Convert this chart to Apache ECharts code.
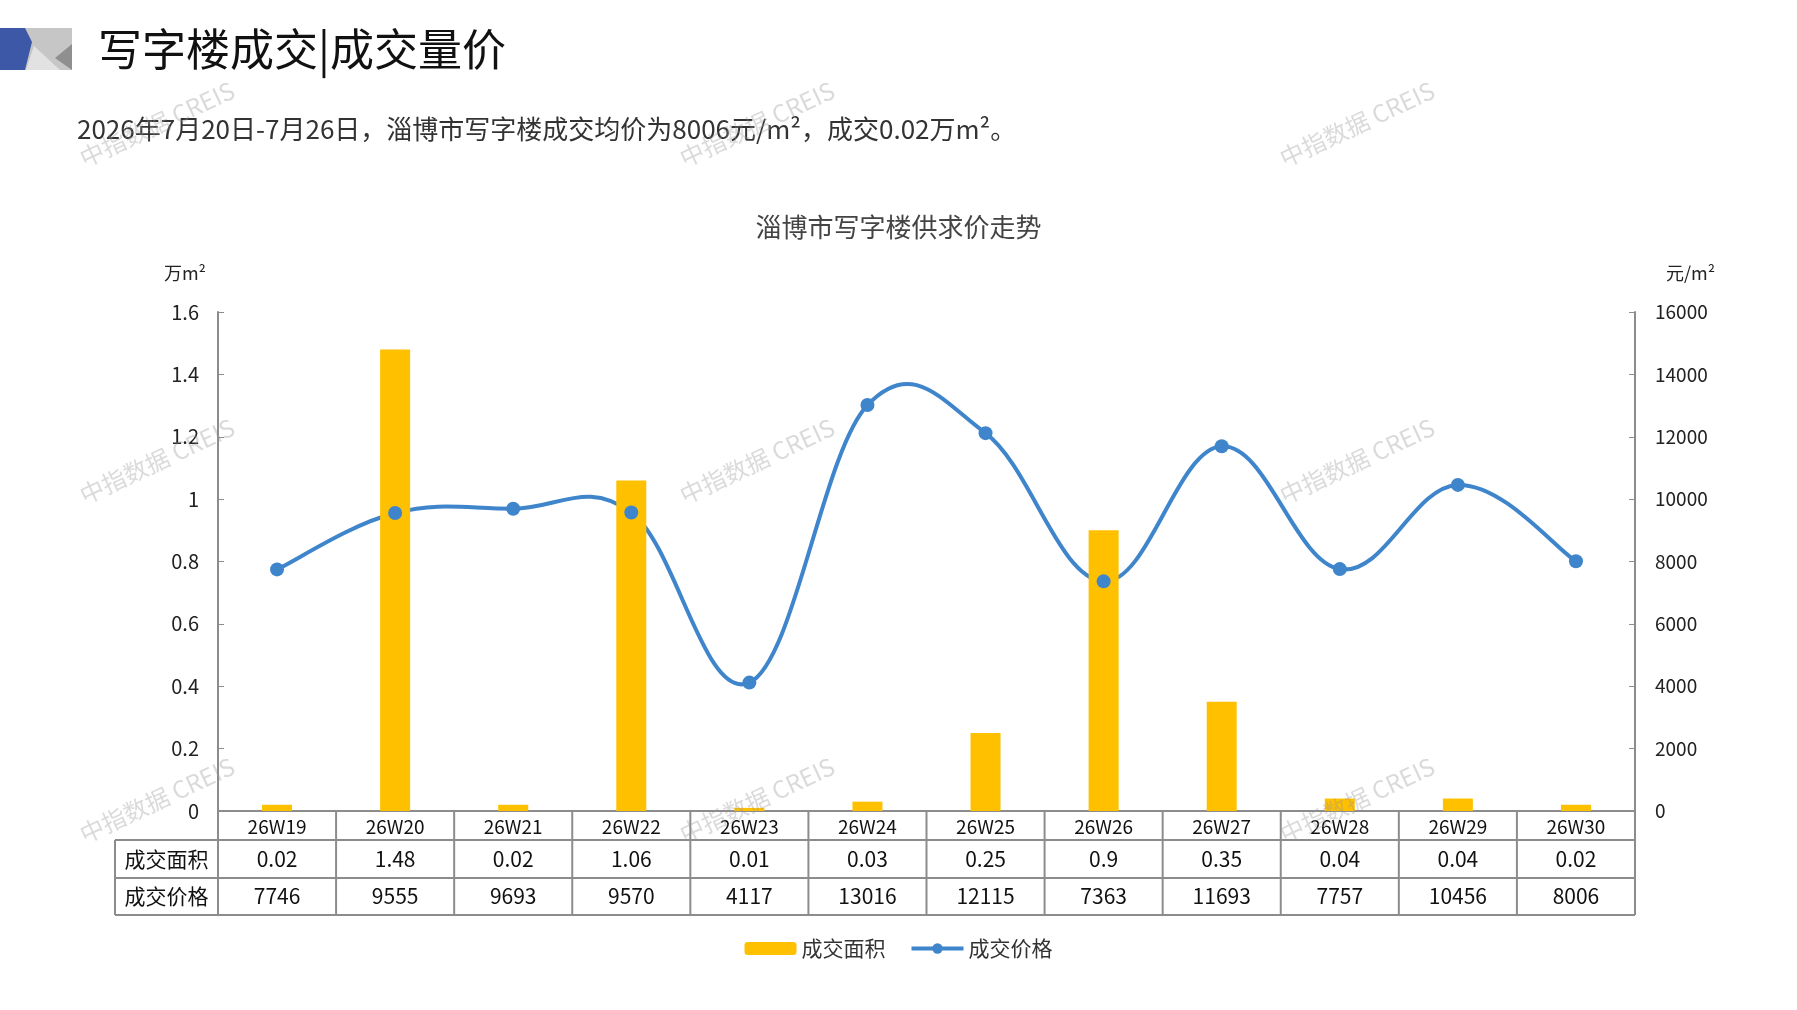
<!DOCTYPE html>
<html lang="zh-CN">
  <head>
    <meta charset="UTF-8" />
    <title>写字楼成交|成交量价</title>
    <script src="https://cdn.jsdelivr.net/npm/echarts@6/dist/echarts.min.js"></script>
    <style>
      html, body { margin: 0; padding: 0; background: #fff; }
      #main { width: 1797px; height: 1010px; }
    </style>
  </head>
  <body>
    <div id="main"></div>
    <script>
      // data
      const weeks = ['26W19', '26W20', '26W21', '26W22', '26W23', '26W24', '26W25', '26W26', '26W27', '26W28', '26W29', '26W30']
      const area = [0.02, 1.48, 0.02, 1.06, 0.01, 0.03, 0.25, 0.9, 0.35, 0.04, 0.04, 0.02]
      const price = [7746, 9555, 9693, 9570, 4117, 13016, 12115, 7363, 11693, 7757, 10456, 8006]
      const seriesNames = ['成交面积', '成交价格']

      const font = '"Noto Sans CJK SC", "Noto Sans", sans-serif'
      const gold = '#FFC000'
      const blue = '#3F85CB'
      const border = '#8C8C8C'

      const chart = echarts.init(document.getElementById('main'))

      // faint watermarks
      const marks = []
      ;[157, 757, 1357].forEach(x => {
        ;[124, 461, 800].forEach(y => {
          marks.push({
            type: 'text', x: x, y: y, rotation: 25 * Math.PI / 180, z: 50,
            style: {
              text: '中指数据 CREIS', font: '24px ' + font,
              fill: 'rgba(150,150,150,0.35)', align: 'center', verticalAlign: 'middle'
            }
          })
        })
      })

      const logo = [
        { type: 'rect', shape: { x: 20, y: 28, width: 52, height: 42 }, style: { fill: '#C6C6C6' } },
        { type: 'polygon', shape: { points: [[26, 70], [34, 46], [60, 70]] }, style: { fill: '#E2E2E2' } },
        { type: 'polygon', shape: { points: [[72, 44], [55, 58], [72, 70]] }, style: { fill: '#8F8F8F' } },
        { type: 'polygon', shape: { points: [[0, 28], [25, 28], [32, 42], [25, 70], [0, 70]] }, style: { fill: '#3D58A6' } }
      ]

      // spreadsheet-style smooth curve (lets the curve swing past the points)
      const tension = 0.19
      function priceCurve(params, api) {
        if (params.dataIndex !== 0) return null
        const p = price.map((v, i) => api.coord([i, v]))
        const at = i => p[Math.max(0, Math.min(p.length - 1, i))]
        let d = 'M' + p[0][0] + ' ' + p[0][1]
        for (let i = 0; i < p.length - 1; i++) {
          const a = at(i - 1), b = p[i], c = p[i + 1], e = at(i + 2)
          const c1 = [b[0] + (c[0] - a[0]) * tension, b[1] + (c[1] - a[1]) * tension]
          const c2 = [c[0] - (e[0] - b[0]) * tension, c[1] - (e[1] - b[1]) * tension]
          d += ' C' + c1[0] + ' ' + c1[1] + ' ' + c2[0] + ' ' + c2[1] + ' ' + c[0] + ' ' + c[1]
        }
        return {
          type: 'path', shape: { pathData: d },
          style: { fill: 'none', stroke: blue, lineWidth: 4, lineCap: 'round', lineJoin: 'round' }
        }
      }

      chart.setOption({
        animation: false,
        backgroundColor: '#fff',
        textStyle: { fontFamily: font },
        title: [
          {
            text: '写字楼成交|成交量价', left: 93, top: 22,
            textStyle: { fontSize: 44, fontWeight: 'normal', color: '#111', fontFamily: font }
          },
          {
            text: '2026年7月20日-7月26日，淄博市写字楼成交均价为8006元/m²，成交0.02万m²。',
            left: 72, top: 111,
            textStyle: { fontSize: 26, fontWeight: 'normal', color: '#333', fontFamily: font }
          },
          {
            text: '淄博市写字楼供求价走势', left: 'center', top: 209,
            textStyle: { fontSize: 26, fontWeight: 'normal', color: '#444', fontFamily: font }
          }
        ],
        legend: {
          top: 933, left: 'center', itemGap: 24, itemWidth: 52, itemHeight: 13,
          textStyle: { fontSize: 21, color: '#333', fontFamily: font },
          data: [
            { name: seriesNames[0] },
            { name: seriesNames[1], lineStyle: { width: 4, color: blue, opacity: 1 } }
          ]
        },
        grid: { left: 218, right: 162, top: 312, bottom: 199, containLabel: false },
        xAxis: {
          type: 'category', data: weeks,
          axisLine: { lineStyle: { color: border, width: 2 } },
          axisTick: { show: false },
          axisLabel: { show: false }
        },
        yAxis: [
          {
            type: 'value', min: 0, max: 1.6, interval: 0.2,
            name: '万m²', nameLocation: 'end', nameGap: 30,
            nameTextStyle: { align: 'right', padding: [0, 12, 0, 0], fontSize: 18, color: '#222' },
            axisLine: { show: true, lineStyle: { color: border, width: 2 } },
            axisTick: { show: true, inside: true, length: 6, lineStyle: { color: border } },
            axisLabel: { fontSize: 20, color: '#222', margin: 19 },
            splitLine: { show: false }
          },
          {
            type: 'value', min: 0, max: 16000, interval: 2000,
            name: '元/m²', nameLocation: 'end', nameGap: 30,
            nameTextStyle: { align: 'left', padding: [0, 0, 0, 31], fontSize: 18, color: '#222' },
            axisLine: { show: true, lineStyle: { color: border, width: 2 } },
            axisTick: { show: true, inside: true, length: 6, lineStyle: { color: border } },
            axisLabel: { fontSize: 19, color: '#222', margin: 20, formatter: v => String(v) },
            splitLine: { show: false }
          }
        ],
        series: [
          {
            name: seriesNames[0], type: 'bar', data: area, barWidth: 30,
            itemStyle: { color: gold }
          },
          {
            name: 'curve', type: 'custom', yAxisIndex: 1, silent: true, z: 2,
            data: price.map((v, i) => [i, v]),
            encode: { x: 0, y: 1 },
            renderItem: priceCurve
          },
          {
            name: seriesNames[1], type: 'line', yAxisIndex: 1, data: price, z: 3,
            symbol: 'circle', symbolSize: 14,
            lineStyle: { color: blue, width: 0 },
            itemStyle: { color: blue }
          }
        ],
        graphic: logo.concat(marks)
      })

      // data table under the plot, placed with the chart's own scales
      const xs = weeks.map((w, i) => chart.convertToPixel({ xAxisIndex: 0 }, i))
      const band = xs[1] - xs[0]
      const left = xs[0] - band / 2
      const right = xs[xs.length - 1] + band / 2
      const y0 = chart.convertToPixel({ yAxisIndex: 0 }, 0)
      const rowH = [29, 38, 37]
      const rowY = [y0, y0 + rowH[0], y0 + rowH[0] + rowH[1], y0 + rowH[0] + rowH[1] + rowH[2]]
      const headLeft = 115
      const table = []
      const line = (x1, y1, x2, y2) => table.push({
        type: 'line', shape: { x1: x1, y1: y1, x2: x2, y2: y2 },
        style: { stroke: border, lineWidth: 2 }, z: 10
      })
      const cell = (text, x, y, size) => table.push({
        type: 'text', x: x, y: y, z: 11,
        style: { text: text, font: size + 'px ' + font, fill: '#111', align: 'center', verticalAlign: 'middle' }
      })
      line(headLeft, rowY[1], right, rowY[1])
      line(headLeft, rowY[2], right, rowY[2])
      line(headLeft, rowY[3], right, rowY[3])
      line(headLeft, rowY[1], headLeft, rowY[3])
      for (let i = 0; i <= weeks.length; i++) {
        line(left + i * band, rowY[0], left + i * band, rowY[3])
      }
      const rows = [area, price]
      seriesNames.forEach((n, r) => cell(n, (headLeft + left) / 2, (rowY[r + 1] + rowY[r + 2]) / 2, 21))
      weeks.forEach((w, i) => {
        cell(w, xs[i], (rowY[0] + rowY[1]) / 2 + 1, 19)
        rows.forEach((vals, r) => cell(String(vals[i]), xs[i], (rowY[r + 1] + rowY[r + 2]) / 2, 21))
      })

      chart.setOption({ graphic: logo.concat(marks, table) })
    </script>
  </body>
</html>
